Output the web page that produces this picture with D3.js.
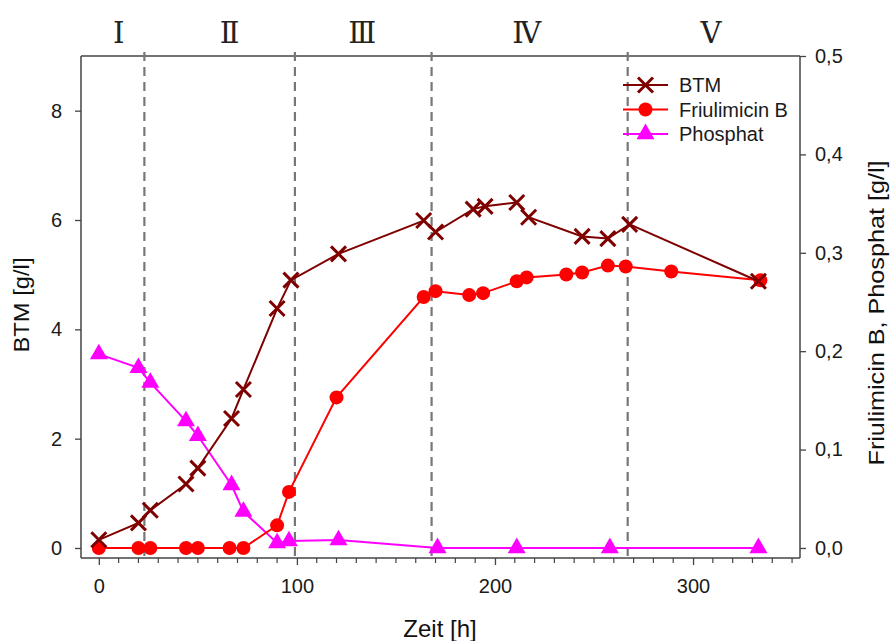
<!DOCTYPE html>
<html>
<head>
<meta charset="utf-8">
<script src="https://cdn.jsdelivr.net/npm/d3@7"></script>
<style>
body{margin:0;background:#fff;}
text{font-family:"Liberation Sans",Arial,sans-serif;}
</style>
</head>
<body>
<script>
// BTM in g/l (left axis)
var btmTime = [0, 20, 26, 44, 50, 67, 73, 90, 97, 121, 164, 170, 189, 195, 211, 217, 244, 257, 268, 333];
var btmVal  = [0.15, 0.46, 0.69, 1.17, 1.46, 2.37, 2.9, 4.38, 4.9, 5.38, 5.99, 5.78, 6.2, 6.25, 6.32, 6.05, 5.7, 5.66, 5.92, 4.88];
// Friulimicin B in g/l (right axis)
var friTime = [0, 20, 26, 44, 50, 66, 73, 90, 96, 120, 164, 170, 187, 194, 211, 216, 236, 244, 257, 266, 289, 334];
var friVal  = [0, 0, 0, 0, 0, 0, 0, 0.023, 0.057, 0.153, 0.255, 0.261, 0.257, 0.259, 0.271, 0.275, 0.278, 0.28, 0.287, 0.286, 0.281, 0.272];
// Phosphat in g/l (right axis)
var phoTime = [0, 20, 26, 44, 50, 67, 73, 90, 96, 121, 171, 211, 258, 333];
var phoVal  = [0.197, 0.183, 0.168, 0.129, 0.114, 0.064, 0.037, 0.005, 0.007, 0.008, 0, 0, 0, 0];

var phaseBorders = [23, 99, 168, 267];
var phaseLabels = ["Ⅰ", "Ⅱ", "Ⅲ", "Ⅳ", "Ⅴ"];
var phaseLabelPos = [10, 66, 133, 216, 309];
var xTicks = [0, 100, 200, 300];
var yTicksLeft = [0, 2, 4, 6, 8];
var yTicksRight = [0, 0.1, 0.2, 0.3, 0.4, 0.5];

var width = 891, height = 641;
var pLeft = 81, pRight = 800, pTop = 56, pBottom = 558;

var svg = d3.select("body").append("svg")
  .attr("width", width).attr("height", height);

var x = d3.scaleLinear().domain([-9, 354]).range([pLeft, pRight]);
var yL = d3.scaleLinear().domain([-0.183, 9]).range([pBottom, pTop]);
var yR = d3.scaleLinear().domain([-0.0102, 0.5]).range([pBottom, pTop]);

var axisColor = "#444";

// frame line on top
svg.append("line").attr("x1", pLeft).attr("x2", pRight).attr("y1", pTop).attr("y2", pTop)
  .attr("stroke", axisColor).attr("stroke-width", 1.5);

// phase borders
svg.selectAll(".phase").data(phaseBorders).enter().append("line")
  .attr("x1", function(d){ return x(d); }).attr("x2", function(d){ return x(d); })
  .attr("y1", pTop - 4).attr("y2", pBottom)
  .attr("stroke", "#777").attr("stroke-width", 2.2).attr("stroke-dasharray", "9,6");

svg.selectAll(".phaseLabel").data(phaseLabels).enter().append("text")
  .attr("x", function(d, i){ return x(phaseLabelPos[i]); })
  .attr("y", 43)
  .attr("text-anchor", "middle")
  .style("font-family", "'Liberation Serif','DejaVu Serif',serif")
  .style("font-size", "29px")
  .attr("fill", "#222")
  .text(function(d){ return d; });

// axes
var xAxis = d3.axisBottom(x).tickValues(xTicks).tickSize(7).tickSizeOuter(0);
var gx = svg.append("g").attr("transform", "translate(0," + pBottom + ")").call(xAxis);
// minor ticks every 10 h
var minor = d3.range(-0, 351, 10).filter(function(d){ return d % 100 !== 0; });
gx.selectAll(".minor").data(minor).enter().append("line")
  .attr("x1", function(d){ return x(d); }).attr("x2", function(d){ return x(d); })
  .attr("y1", 0).attr("y2", 5).attr("stroke", axisColor).attr("stroke-width", 1.2);

var gl = svg.append("g").attr("transform", "translate(" + pLeft + ",0)")
  .call(d3.axisLeft(yL).tickValues(yTicksLeft).tickSize(6).tickSizeOuter(0));
var gr = svg.append("g").attr("transform", "translate(" + pRight + ",0)")
  .call(d3.axisRight(yR).tickValues(yTicksRight).tickSize(6).tickSizeOuter(0)
    .tickFormat(function(d){ return d3.format(".1f")(d).replace(".", ","); }));

[gx, gl, gr].forEach(function(g){
  g.select(".domain").attr("stroke", axisColor).attr("stroke-width", 1.5);
  g.selectAll(".tick line").attr("stroke", axisColor).attr("stroke-width", 1.3);
  g.selectAll(".tick text").attr("fill", "#1a1a1a").style("font-size", "20px")
    .style("font-family", "'Liberation Sans',Arial,sans-serif");
});
gx.selectAll(".tick text").attr("y", 21);
gl.selectAll(".tick text").attr("x", -19);
gr.selectAll(".tick text").attr("x", 15);
// extend domain lines to close the frame
gx.select(".domain").attr("d", "M" + pLeft + ",0H" + pRight);
gl.select(".domain").attr("d", "M0," + pTop + "V" + pBottom);
gr.select(".domain").attr("d", "M0," + pTop + "V" + pBottom);

// axis titles
svg.append("text").attr("x", 440).attr("y", 637)
  .attr("text-anchor", "middle").style("font-size", "24px").attr("fill", "#111")
  .text("Zeit [h]");
svg.append("text").attr("transform", "translate(29,305) rotate(-90)")
  .attr("text-anchor", "middle").style("font-size", "22px").attr("fill", "#111")
  .attr("textLength", 95).attr("lengthAdjust", "spacingAndGlyphs")
  .text("BTM [g/l]");
svg.append("text").attr("transform", "translate(884,313) rotate(-90)")
  .attr("text-anchor", "middle").style("font-size", "22px").attr("fill", "#111")
  .attr("textLength", 305).attr("lengthAdjust", "spacingAndGlyphs")
  .text("Friulimicin B, Phosphat [g/l]");

var colBTM = "#7f0000", colFri = "#ff0000", colPho = "#ff00ff";

function drawSeries(times, vals, yScale, color, marker){
  var pts = times.map(function(t, i){ return [x(t), yScale(vals[i])]; });
  svg.append("path").datum(pts)
    .attr("d", d3.line())
    .attr("fill", "none").attr("stroke", color).attr("stroke-width", 2);
  var g = svg.append("g");
  pts.forEach(function(p){ marker(g, p[0], p[1], color); });
}

function cross(g, cx, cy, color){
  var s = 7.5;
  g.append("path")
    .attr("d", "M" + (cx - s) + "," + (cy - s) + "L" + (cx + s) + "," + (cy + s) +
               "M" + (cx - s) + "," + (cy + s) + "L" + (cx + s) + "," + (cy - s))
    .attr("stroke", color).attr("stroke-width", 3).attr("fill", "none");
}
function dot(g, cx, cy, color){
  g.append("circle").attr("cx", cx).attr("cy", cy).attr("r", 7).attr("fill", color);
}
function tri(g, cx, cy, color){
  g.append("path").attr("transform", "translate(" + cx + "," + cy + ")")
    .attr("d", d3.symbol().type(d3.symbolTriangle).size(140)).attr("fill", color);
}

drawSeries(phoTime, phoVal, yR, colPho, tri);
drawSeries(friTime, friVal, yR, colFri, dot);
drawSeries(btmTime, btmVal, yL, colBTM, cross);

// legend
var legend = [["BTM", colBTM, cross], ["Friulimicin B", colFri, dot], ["Phosphat", colPho, tri]];
legend.forEach(function(d, i){
  var ly = 85 + i * 24.5;
  svg.append("line").attr("x1", 623).attr("x2", 668).attr("y1", ly).attr("y2", ly)
    .attr("stroke", d[1]).attr("stroke-width", 2);
  d[2](svg, 645.5, ly, d[1]);
  svg.append("text").attr("x", 679).attr("y", ly + 7).style("font-size", "20px")
    .attr("fill", "#1a1a1a").text(d[0]);
});
</script>
</body>
</html>
